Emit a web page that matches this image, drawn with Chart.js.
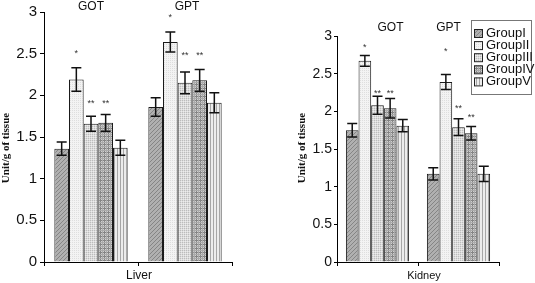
<!DOCTYPE html>
<html lang="en">
<head>
<meta charset="UTF-8">
<title>GOT and GPT levels in liver and kidney</title>
<script src="https://cdn.jsdelivr.net/npm/chart.js"></script>
<style>
  body { margin: 0; background: #fff; }
  #wrap { position: relative; width: 535px; height: 283px; }
  canvas { position: absolute; top: 0; }
  #liverChart { left: 0; }
  #kidneyChart { left: 260px; }
</style>
</head>
<body>
<div id="wrap">
  <canvas id="liverChart" width="240" height="283"></canvas>
  <canvas id="kidneyChart" width="275" height="283"></canvas>
</div>
<script>
const enzymes = ['GOT', 'GPT'];
const groups = ['GroupI', 'GroupII', 'GroupIII', 'GroupIV', 'GroupV'];

// one row per group: [GOT, GPT]
const liverMeans  = [[1.36, 1.86], [2.19, 2.64], [1.66, 2.15], [1.67, 2.18], [1.37, 1.91]];
const liverErrors = [[0.08, 0.11], [0.14, 0.12], [0.09, 0.13], [0.10, 0.13], [0.09, 0.12]];
const liverStars  = [['', ''], ['*', '*'], ['**', '**'], ['**', '**'], ['', '']];
const liverStarLevels = [[0, 0], [2.52, 2.96], [1.93, 2.50], [1.93, 2.50], [0, 0]];

const kidneyMeans  = [[1.75, 1.17], [2.67, 2.39], [2.08, 1.79], [2.04, 1.71], [1.81, 1.17]];
const kidneyErrors = [[0.09, 0.08], [0.07, 0.10], [0.12, 0.11], [0.13, 0.09], [0.08, 0.10]];
const kidneyStars  = [['', ''], ['*', '*'], ['**', '**'], ['**', '**'], ['', '']];
const kidneyStarLevels = [[0, 0], [2.88, 2.82], [2.26, 2.06], [2.26, 1.95], [0, 0]];

const SANS = '"Liberation Sans", Arial, sans-serif';

// fill patterns, one per group
function makePattern(kind) {
    const c = document.createElement('canvas');
    const g = c.getContext('2d');
    if (kind === 'diag') {
        c.width = 4; c.height = 4;
        g.fillStyle = '#b0b0b0'; g.fillRect(0, 0, 4, 4);
        g.fillStyle = '#858585';
        for (let i = 0; i < 4; i++) g.fillRect(3 - i, i, 1, 1);
    } else if (kind === 'light') {
        c.width = 2; c.height = 2;
        g.fillStyle = '#f3f3f3'; g.fillRect(0, 0, 2, 2);
        g.fillStyle = '#dedede'; g.fillRect(0, 0, 1, 1);
    } else if (kind === 'dots') {
        c.width = 2; c.height = 2;
        g.fillStyle = '#dcdcdc'; g.fillRect(0, 0, 2, 2);
        g.fillStyle = '#bcbcbc'; g.fillRect(0, 0, 1, 1);
        g.fillStyle = '#ececec'; g.fillRect(1, 1, 1, 1);
    } else if (kind === 'check') {
        c.width = 4; c.height = 4;
        g.fillStyle = '#d0d0d0'; g.fillRect(0, 0, 4, 4);
        g.fillStyle = '#848484'; g.fillRect(0, 0, 4, 1); g.fillRect(0, 0, 1, 4);
        g.fillStyle = '#aaaaaa'; g.fillRect(0, 2, 4, 1); g.fillRect(2, 0, 1, 4);
    } else {
        c.width = 3; c.height = 1;
        g.fillStyle = '#ececec'; g.fillRect(0, 0, 3, 1);
        g.fillStyle = '#a6a6a6'; g.fillRect(0, 0, 1, 1);
    }
    return g.createPattern(c, 'repeat');
}
const fills = ['diag', 'light', 'dots', 'check', 'stripe'];

const decor = {
    id: 'decor',
    afterDatasetsDraw(chart, args, o) {
        const ctx = chart.ctx;
        const x = chart.scales.x, y = chart.scales.y;
        const area = chart.chartArea;
        ctx.save();
        // error bars and significance marks
        chart.data.datasets.forEach((ds, i) => {
            chart.getDatasetMeta(i).data.forEach((bar, j) => {
                const m = ds.data[j], e = o.errors[i][j];
                const top = y.getPixelForValue(m + e), bot = y.getPixelForValue(m - e);
                ctx.strokeStyle = '#111';
                ctx.lineWidth = 1.5;
                ctx.beginPath();
                ctx.moveTo(bar.x, top); ctx.lineTo(bar.x, bot);
                ctx.moveTo(bar.x - 5, top); ctx.lineTo(bar.x + 5, top);
                ctx.moveTo(bar.x - 5, bot); ctx.lineTo(bar.x + 5, bot);
                ctx.stroke();
                if (o.stars[i][j]) {
                    ctx.fillStyle = '#333';
                    ctx.font = '9px ' + SANS;
                    ctx.textAlign = 'center';
                    ctx.textBaseline = 'middle';
                    ctx.fillText(o.stars[i][j], bar.x, y.getPixelForValue(o.starLevels[i][j]) + 2);
                }
            });
        });
        // enzyme labels above each group
        ctx.fillStyle = '#111';
        ctx.font = '12px ' + SANS;
        ctx.textAlign = 'center';
        ctx.textBaseline = 'middle';
        enzymes.forEach((lab, j) => {
            ctx.fillText(lab, x.getPixelForValue(j) + o.labelDx[j], o.labelY);
        });
        // x title
        ctx.font = o.xTitleSize + 'px ' + SANS;
        ctx.fillText(o.xTitle, (area.left + area.right) / 2 + o.xTitleDx, 276);
        // y title
        ctx.translate(o.yTitleX, 148);
        ctx.rotate(-Math.PI / 2);
        ctx.font = 'bold 11px "Liberation Serif", "Times New Roman", serif';
        ctx.fillText('Unit/g of tissue', 0, 0);
        ctx.restore();

        if (o.legend) {
            ctx.save();
            ctx.fillStyle = '#fff';
            ctx.fillRect(o.legend.x, o.legend.y, o.legend.w, o.legend.h);
            ctx.strokeStyle = '#777';
            ctx.lineWidth = 1;
            ctx.strokeRect(o.legend.x + 0.5, o.legend.y + 0.5, o.legend.w, o.legend.h);
            ctx.font = '13px ' + SANS;
            ctx.textAlign = 'left';
            ctx.textBaseline = 'middle';
            groups.forEach((gname, i) => {
                const cy = o.legend.y + 13 + i * 12.1;
                ctx.fillStyle = chart.data.datasets[i].backgroundColor;
                ctx.fillRect(o.legend.x + 3, cy - 4, 8, 8);
                ctx.strokeStyle = '#222';
                ctx.strokeRect(o.legend.x + 3.5, cy - 3.5, 8, 8);
                ctx.fillStyle = '#111';
                ctx.fillText(gname, o.legend.x + 15, cy + 0.5);
            });
            ctx.restore();
        }
    }
};

function buildChart(id, means, opts) {
    const ctx = document.getElementById(id).getContext('2d');
    return new Chart(ctx, {
        type: 'bar',
        data: {
            labels: enzymes,
            datasets: groups.map((g, i) => ({
                label: g,
                data: means[i],
                backgroundColor: makePattern(fills[i]),
                borderColor: '#1a1a1a',
                borderWidth: 1,
                borderSkipped: 'bottom',
                barPercentage: 1,
                categoryPercentage: 0.78
            }))
        },
        options: {
            responsive: false,
            animation: false,
            layout: { padding: { left: 0, right: opts.padRight, top: opts.padTop, bottom: 0 } },
            plugins: {
                legend: { display: false },
                tooltip: { enabled: false },
                decor: opts.decor
            },
            scales: {
                x: {
                    ticks: { display: false },
                    grid: { drawOnChartArea: false, tickLength: 4, color: '#000', tickColor: '#000', offset: true },
                    border: { color: '#000', width: 1 },
                    afterFit: s => { s.height = 21; }
                },
                y: {
                    min: 0,
                    max: 3,
                    ticks: {
                        stepSize: 0.5,
                        color: '#111',
                        padding: opts.tickPad,
                        font: { family: SANS, size: opts.tickSize },
                        callback: v => String(v)
                    },
                    grid: { drawOnChartArea: false, tickLength: opts.tickLen, color: '#000', tickColor: '#000' },
                    border: { color: '#000', width: 1 },
                    afterFit: s => { s.width = opts.axisWidth; }
                }
            }
        },
        plugins: [decor]
    });
}

buildChart('liverChart', liverMeans, {
    padRight: 8, padTop: 10, axisWidth: 44, tickSize: 15, tickPad: 3, tickLen: 4,
    decor: {
        errors: liverErrors, stars: liverStars, starLevels: liverStarLevels,
        labelDx: [0, 2], labelY: 7, xTitle: 'Liver', xTitleSize: 12, xTitleDx: 1, yTitleX: 6
    }
});

buildChart('kidneyChart', kidneyMeans, {
    padRight: 36, padTop: 36, axisWidth: 77, tickSize: 14, tickPad: 2, tickLen: 3,
    decor: {
        errors: kidneyErrors, stars: kidneyStars, starLevels: kidneyStarLevels,
        labelDx: [13, -10], labelY: 28, xTitle: 'Kidney', xTitleSize: 11, xTitleDx: 6, yTitleX: 42,
        legend: { x: 211, y: 20, w: 60, h: 74 }
    }
});
</script>
</body>
</html>
